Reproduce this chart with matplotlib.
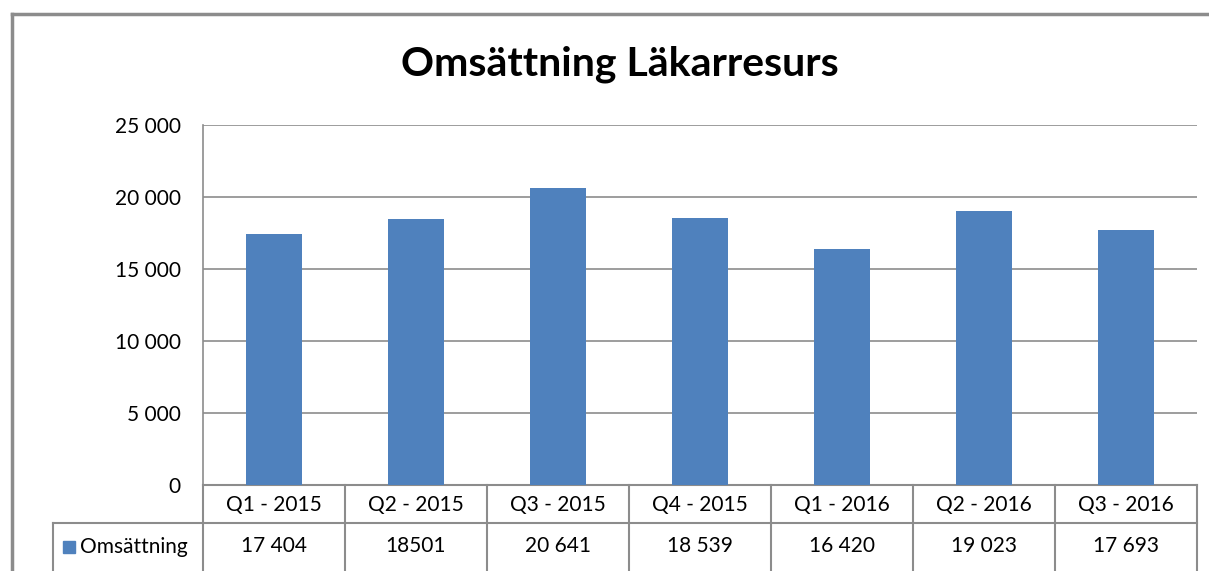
import matplotlib.pyplot as plt
from matplotlib.patches import Rectangle
from matplotlib.transforms import blended_transform_factory

plt.rcParams['font.family'] = ['Lato', 'DejaVu Sans']

# data
quarters = ['Q1 - 2015', 'Q2 - 2015', 'Q3 - 2015', 'Q4 - 2015',
            'Q1 - 2016', 'Q2 - 2016', 'Q3 - 2016']
omsattning = [17404, 18501, 20641, 18539, 16420, 19023, 17693]
value_labels = ['17 404', '18501', '20 641', '18 539', '16 420', '19 023', '17 693']
yticks = [0, 5000, 10000, 15000, 20000, 25000]
ytick_labels = ['0', '5 000', '10 000', '15 000', '20 000', '25 000']

bar_color = '#4F81BD'
line_color = '#8C8C8C'

W, H = 1209, 571
fig = plt.figure(figsize=(W / 100, H / 100), dpi=100)

# plot area in pixels: x 203..1197, y 125..485
ax = fig.add_axes([203 / W, (H - 485) / H, 994 / W, 360 / H])
x = list(range(len(quarters)))
ax.bar(x, omsattning, width=0.4, color=bar_color, zorder=3)
ax.set_xlim(-0.5, len(quarters) - 0.5)
ax.set_ylim(0, 25000)
ax.set_yticks(yticks)
ax.set_yticklabels(ytick_labels, fontsize=15)
ax.set_xticks([])
ax.tick_params(axis='y', length=0, pad=16)
ax.grid(axis='y', color=line_color, linewidth=1.2, zorder=0)
for s in ['top', 'right', 'bottom']:
    ax.spines[s].set_visible(False)
ax.spines['left'].set_color(line_color)
ax.spines['left'].set_linewidth(1.2)

# data table under the plot area
row_h = 38 / 360  # axes fraction
tr = blended_transform_factory(ax.transData, ax.transAxes)
y_mid1 = -20 / 360
y_mid2 = -61 / 360
bottom = -86 / 360
for i, q in enumerate(quarters):
    ax.text(i, y_mid1, q, transform=tr, ha='center', va='center', fontsize=15)
    ax.text(i, y_mid2, value_labels[i], transform=tr, ha='center', va='center', fontsize=15)
# grid lines of the table
lk = dict(color=line_color, linewidth=1.5, clip_on=False)
ax.plot([-0.5, len(quarters) - 0.5], [0, 0], transform=tr, **lk)
ax.plot([-0.5, len(quarters) - 0.5], [-row_h, -row_h], transform=tr, **lk)
for b in range(len(quarters) + 1):
    ax.plot([b - 0.5, b - 0.5], [0, bottom], transform=tr, **lk)
# header column for the legend key
fig.add_artist(plt.Line2D([53 / W, 203 / W], [(H - 523) / H, (H - 523) / H],
                          color=line_color, linewidth=1.5))
fig.add_artist(plt.Line2D([53 / W, 53 / W], [(H - 523) / H, 0],
                          color=line_color, linewidth=1.5))
fig.add_artist(Rectangle((63 / W, (H - 553) / H), 12 / W, 12 / H,
                         transform=fig.transFigure, color=bar_color))
fig.text(80 / W, (H - 547) / H, 'Omsättning', ha='left', va='center', fontsize=15)

# outer chart border (left and top only visible)
fig.add_artist(plt.Line2D([12 / W, 12 / W], [0, (H - 14) / H],
                          color=line_color, linewidth=2.5))
fig.add_artist(plt.Line2D([12 / W, 1], [(H - 14) / H, (H - 14) / H],
                          color=line_color, linewidth=2.5))

fig.text(620 / W, (H - 64) / H, 'Omsättning Läkarresurs', ha='center', va='center',
         fontsize=29.5, fontweight='bold')

fig.savefig('out.png', dpi=100)
